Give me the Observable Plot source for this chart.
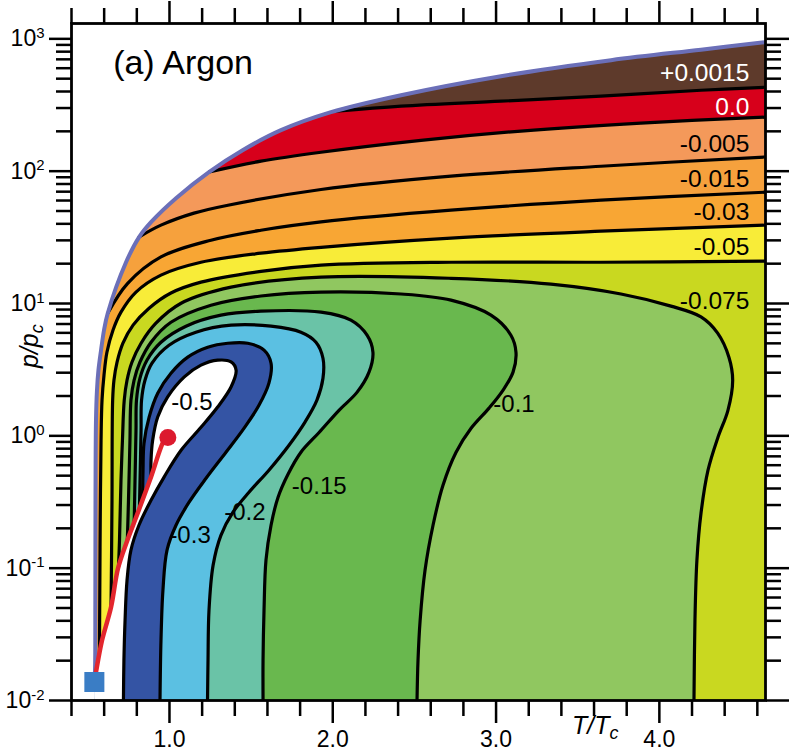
<!DOCTYPE html>
<html><head><meta charset="utf-8">
<script src="https://cdn.jsdelivr.net/npm/d3@7"></script>
<script src="https://cdn.jsdelivr.net/npm/@observablehq/plot@0.6"></script>
<style>body{margin:0;background:#fff;}</style>
</head><body><div id="chart"></div>
<script>
// ---- boundary curves [T/Tc, p/pc] ----
const melting = [[0.540,0.0138],[0.544,0.0169],[0.546,0.0572],[0.547,0.326],[0.550,1.31],[0.556,2.21],[0.565,3.13],[0.581,4.44],[0.599,6.28],[0.622,8.45],[0.734,20.5],[0.815,31.9],[0.887,41.2],[1.040,62.5],[1.244,98.8],[1.448,144],[1.683,204],[1.989,279],[2.418,375],[3.030,522],[3.704,690],[4.255,828],[4.65,944]];
const vapor = [[0.540,0.0138],[0.550,0.0164],[0.587,0.0285],[0.642,0.0506],[0.685,0.0998],[0.740,0.160],[0.805,0.260],[0.887,0.489],[0.968,0.927],[0.99,0.97]];
const triplePoint = [[0.540,0.0138]];
const criticalPoint = [[0.99,0.97]];

// ---- contour lines [T/Tc, p/pc] ----
const cP0015 = [[2.020,284],[2.418,310],[3.030,338],[3.642,369],[4.255,409],[4.65,431]];
const c0000 = [[1.244,98.8],[1.560,119],[1.928,139],[2.540,171],[3.152,201],[3.887,231],[4.65,256]];
const cM0005 = [[0.815,31.9],[0.948,39.1],[1.150,48.2],[1.358,55.3],[1.928,72.7],[2.724,91.6],[3.642,109],[4.65,128]];
const cM0015 = [[0.622,8.45],[0.744,14.2],[0.948,22.5],[1.254,30.1],[1.560,35.8],[1.928,41.4],[2.724,50.7],[3.642,60.4],[4.65,69.4]];
const cM003 = [[0.571,0.0223],[0.573,0.0572],[0.576,0.230],[0.581,0.926],[0.587,1.86],[0.599,2.87],[0.617,4.28],[0.654,6.28],[0.703,8.60],[0.795,12.2],[0.948,16.4],[1.193,20.5],[1.560,24.0],[1.928,26.6],[2.724,31.2],[3.642,35.2],[4.65,39.1]];
const cM005 = [[0.642,0.0506],[0.645,0.115],[0.648,0.326],[0.652,1.86],[0.660,2.63],[0.679,3.60],[0.715,5.01],[0.777,6.86],[0.875,9.21],[1.009,12.0],[1.193,14.5],[1.560,17.5],[1.928,19.5],[2.724,20.5],[3.642,20.5],[4.65,20.9]];
const cM0075 = [[0.688,0.102],[0.694,0.163],[0.703,0.462],[0.712,0.926],[0.723,1.86],[0.740,2.63],[0.770,3.60],[0.826,5.01],[0.917,7.10],[1.071,10.05],[1.377,13.3],[1.928,15.8],[2.724,15.5],[3.336,14.0],[3.765,11.8],[4.071,9.55],[4.255,7.92],[4.357,5.97],[4.426,3.93],[4.449,2.63],[4.420,1.56],[4.359,0.976],[4.298,0.550],[4.255,0.260],[4.230,0.115],[4.218,0.0404],[4.212,0.01]];
const cM01 = [[0.742,0.163],[0.749,0.326],[0.758,0.926],[0.764,1.86],[0.783,2.63],[0.819,3.60],[0.887,5.10],[1.009,7.22],[1.254,9.71],[1.560,11.4],[1.928,12.2],[2.418,11.8],[2.724,10.6],[2.969,8.16],[3.091,5.76],[3.122,4.28],[3.104,3.03],[3.042,2.21],[2.957,1.62],[2.847,1.14],[2.755,0.752],[2.675,0.423],[2.614,0.211],[2.565,0.0964],[2.535,0.0404],[2.522,0.0201],[2.516,0.01]];
const cM015 = [[0.784,0.222],[0.789,0.462],[0.795,1.10],[0.798,1.86],[0.819,2.72],[0.862,3.73],[0.948,5.10],[1.101,6.74],[1.315,8.16],[1.560,8.75],[1.928,8.60],[2.111,7.48],[2.210,5.76],[2.246,4.28],[2.222,3.03],[2.148,2.13],[2.038,1.56],[1.916,1.06],[1.805,0.752],[1.726,0.513],[1.665,0.344],[1.622,0.211],[1.591,0.115],[1.579,0.0481],[1.573,0.0201],[1.573,0.01]];
const cM02 = [[0.816,0.284],[0.821,0.550],[0.826,1.10],[0.829,1.86],[0.850,2.63],[0.893,3.54],[0.997,4.84],[1.162,6.07],[1.377,6.86],[1.622,6.74],[1.805,6.07],[1.897,5.10],[1.940,3.86],[1.940,2.72],[1.903,1.86],[1.830,1.27],[1.732,0.849],[1.609,0.550],[1.487,0.375],[1.389,0.265],[1.315,0.177],[1.267,0.105],[1.242,0.0481],[1.236,0.0201],[1.233,0.01]];
const cM03 = [[0.835,0.326],[0.838,0.550],[0.844,0.879],[0.875,1.38],[0.928,2.10],[1.009,2.97],[1.112,3.93],[1.234,4.67],[1.357,5.01],[1.479,5.01],[1.579,4.44],[1.622,3.54],[1.609,2.50],[1.548,1.70],[1.456,1.14],[1.346,0.752],[1.224,0.478],[1.120,0.315],[1.040,0.211],[0.985,0.137],[0.960,0.0681],[0.948,0.0285],[0.942,0.01]];
const cM05 = [[0.887,0.489],[0.887,0.654],[0.897,0.926],[0.928,1.39],[0.989,1.97],[1.091,2.79],[1.193,3.42],[1.295,3.73],[1.377,3.62],[1.408,3.13],[1.377,2.34],[1.295,1.65],[1.193,1.16],[1.071,0.778],[0.966,0.486],[0.887,0.326],[0.813,0.211],[0.764,0.137],[0.740,0.0810],[0.728,0.0404],[0.721,0.0201],[0.718,0.01]];

// ---- labels ----
const bandLabels = ["+0.0015","0.0","-0.005","-0.015","-0.03","-0.05","-0.075"];
const bandLabelP = [555, 307, 160, 87.0, 49.2, 26.8, 10.4];
const bandLabelT = 4.551;
const innerLabels = ["-0.5","-0.3","-0.2","-0.15","-0.1"];
const innerLabelT = [1.138, 1.126, 1.462, 1.917, 3.110];
const innerLabelP = [1.80, 0.177, 0.265, 0.416, 1.73];

// ---- ticks ----
const xMajor = [1, 2, 3, 4];
const xMinor = [0.4,0.6,0.8,1.2,1.4,1.6,1.8,2.2,2.4,2.6,2.8,3.2,3.4,3.6,3.8,4.2,4.4,4.6];
const yMajor = [0.01, 0.1, 1, 10, 100, 1000];
const yMinor = [0.02,0.03,0.04,0.05,0.06,0.07,0.08,0.09,0.2,0.3,0.4,0.5,0.6,0.7,0.8,0.9,2,3,4,5,6,7,8,9,20,30,40,50,60,70,80,90,200,300,400,500,600,700,800,900];

const BROWN = "#5e3a2b";
const insideFills = ["#d7001b","#f4995a","#f6a13d","#f8a634","#f8ec38","#c9d820","#90c760","#69b84e","#6ac3a7","#5bc0e2","#3454a4","#ffffff"];

const RIGHT = 4.9, BOTTOM = 0.005, TSQ = 0.54;
function region(contour, boundary) {
  const s = contour[0], e = contour[contour.length - 1];
  const tail = e[1] > 0.0101 ? [[RIGHT, e[1]], [RIGHT, BOTTOM]] : [[e[0], BOTTOM]];
  return contour.concat(tail, [[TSQ, BOTTOM], [TSQ, 0.008]], boundary.filter(d => d[1] < s[1]));
}
const liquidSide = [cP0015, c0000, cM0005, cM0015];
const gasSide = [cM003, cM005, cM0075, cM01, cM015, cM02, cM03, cM05];
const allContours = liquidSide.concat(gasSide);
const regions = liquidSide.map(c => region(c, melting)).concat(gasSide.map(c => region(c, vapor)));
const fluid = melting.concat([[RIGHT, 944], [RIGHT, BOTTOM], [TSQ, BOTTOM], [TSQ, 0.008]]);

const X = d => d[0], Y = d => d[1];
const font = "'Liberation Sans', Arial, Helvetica, sans-serif";

const marks = [];
marks.push(Plot.line(fluid, {x: X, y: Y, fill: BROWN, stroke: "none", curve: "catmull-rom", clip: true}));
regions.forEach((r, i) => marks.push(Plot.line(r, {x: X, y: Y, fill: insideFills[i], stroke: "none", curve: "catmull-rom", clip: true})));
allContours.forEach(c => marks.push(Plot.line(c, {x: X, y: Y, stroke: "#000", strokeWidth: 3.2, curve: "catmull-rom", clip: true})));
marks.push(Plot.line(melting, {x: X, y: Y, stroke: "#6b6fb8", strokeWidth: 4, curve: "catmull-rom", clip: true}));
marks.push(Plot.line(vapor, {x: X, y: Y, stroke: "#e3262d", strokeWidth: 4.5, curve: "catmull-rom", clip: true}));
marks.push(Plot.dot(criticalPoint, {x: X, y: Y, r: 8.5, fill: "#dc1a2e", stroke: "none"}));
marks.push(Plot.dot(triplePoint, {x: X, y: Y, r: 11.3, symbol: "square", fill: "#3a7dc5", stroke: "none"}));

// labels
marks.push(Plot.text(bandLabels.slice(0, 2).map((t, i) => ({t, T: bandLabelT, p: bandLabelP[i]})), {x: "T", y: "p", text: "t", textAnchor: "end", fontSize: 24.5, fill: "white"}));
marks.push(Plot.text(bandLabels.slice(2).map((t, i) => ({t, T: bandLabelT, p: bandLabelP[i + 2]})), {x: "T", y: "p", text: "t", textAnchor: "end", fontSize: 24.5, fill: "black"}));
marks.push(Plot.text(innerLabels.map((t, i) => ({t, T: innerLabelT[i], p: innerLabelP[i]})), {x: "T", y: "p", text: "t", fontSize: 24, fill: "black"}));
marks.push(Plot.text([{t: "(a) Argon", T: 0.655, p: 657}], {x: "T", y: "p", text: "t", textAnchor: "start", fontSize: 34, fill: "black"}));

// frame & axes
marks.push(Plot.frame({stroke: "#000", strokeWidth: 2.8}));
const tk = {strokeWidth: 2.5, label: null};
marks.push(Plot.axisX({...tk, ticks: xMinor, anchor: "bottom", tickSize: 16, tickFormat: () => ""}));
marks.push(Plot.axisX({...tk, ticks: xMajor, anchor: "bottom", tickSize: 23, tickPadding: 7, tickFormat: d => d.toFixed(1), fontSize: 23}));
marks.push(Plot.axisX({...tk, ticks: xMinor, anchor: "top", tickSize: 16, tickFormat: () => ""}));
marks.push(Plot.axisX({...tk, ticks: xMajor, anchor: "top", tickSize: 23, tickFormat: () => ""}));
marks.push(Plot.axisY({...tk, ticks: yMinor, anchor: "left", tickSize: 15, tickFormat: () => ""}));
marks.push(Plot.axisY({...tk, ticks: yMajor, anchor: "left", tickSize: 22, tickPadding: 5, tickFormat: d => String(Math.round(Math.log10(d))), fontSize: 23}));
marks.push(Plot.axisY({...tk, ticks: yMinor, anchor: "right", tickSize: 15, tickFormat: () => ""}));
marks.push(Plot.axisY({...tk, ticks: yMajor, anchor: "right", tickSize: 24, tickFormat: () => ""}));
// axis titles
marks.push(Plot.text(["p/p_c"], {frameAnchor: "left", dx: -42, dy: 6, rotate: -90, fontSize: 25, fontStyle: "italic", text: d => d}));
marks.push(Plot.text([{t: "T/T_c", T: 3.465}], {x: "T", text: "t", frameAnchor: "bottom", dy: 33, textAnchor: "start", fontSize: 25, fontStyle: "italic"}));

const chart = Plot.plot({
  width: 789, height: 756,
  marginTop: 23, marginRight: 24, marginBottom: 56, marginLeft: 71,
  x: {domain: [0.4, 4.65]},
  y: {type: "log", domain: [0.01, 1306]},
  style: {fontFamily: font, background: "white", color: "black", overflow: "visible"},
  marks
});
document.getElementById("chart").appendChild(chart);

// superscripts for powers of ten and subscripts for axis titles
d3.select(chart).selectAll('g[aria-label="y-axis tick label"] text').each(function() {
  const e = this.textContent;
  if (!e) return;
  const t = d3.select(this);
  t.text(null);
  t.append("tspan").text("10");
  t.append("tspan").attr("font-size", "0.65em").attr("dy", "-0.56em").text(e);
});
d3.select(chart).selectAll("text").each(function() {
  const s = this.textContent;
  if (!s || s.indexOf("_") < 0) return;
  const [a, b] = s.split("_");
  const t = d3.select(this);
  t.text(null);
  t.append("tspan").text(a);
  t.append("tspan").attr("font-size", "0.72em").attr("dy", "0.3em").text(b);
});
</script></body></html>
